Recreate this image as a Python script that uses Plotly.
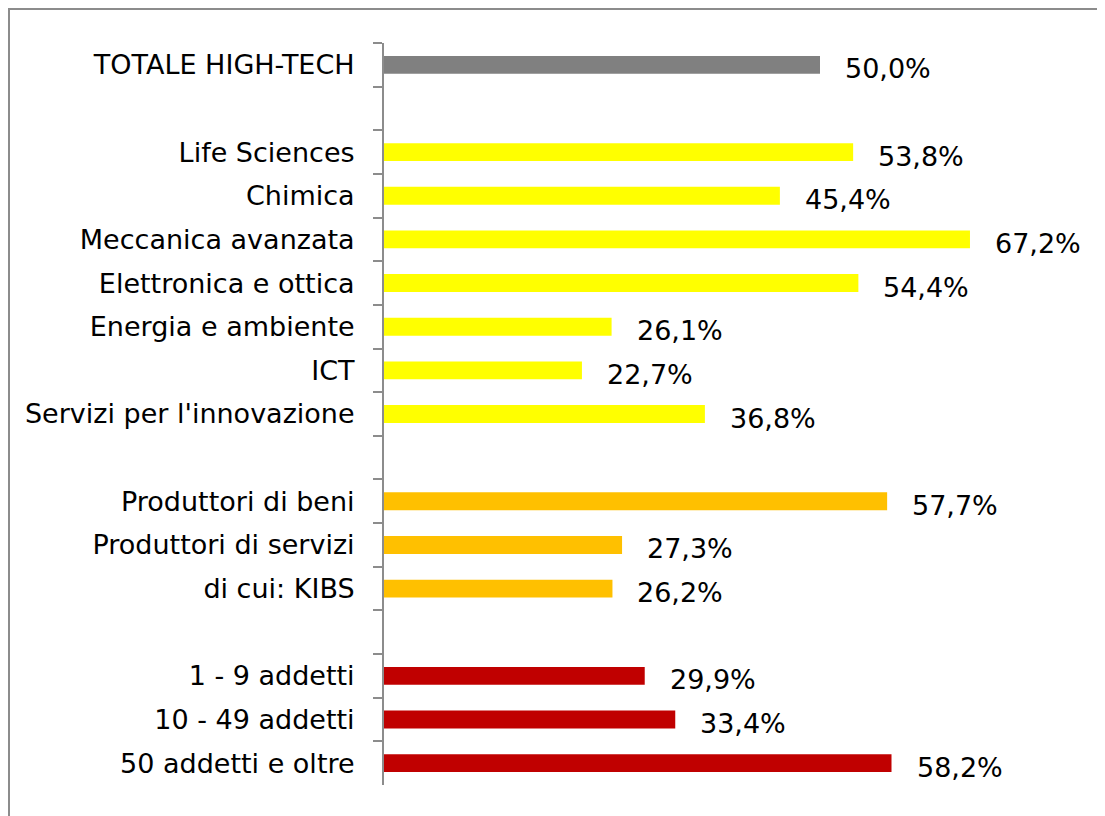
import plotly.graph_objects as go

categories = ["TOTALE HIGH-TECH", " ", "Life Sciences", "Chimica", "Meccanica avanzata",
              "Elettronica e ottica", "Energia e ambiente", "ICT", "Servizi per l'innovazione",
              "  ", "Produttori di beni", "Produttori di servizi", "di cui: KIBS", "   ",
              "1 - 9 addetti", "10 - 49 addetti", "50 addetti e oltre"]
values = [50.0, None, 53.8, 45.4, 67.2, 54.4, 26.1, 22.7, 36.8, None,
          57.7, 27.3, 26.2, None, 29.9, 33.4, 58.2]
colors = ["#808080", "#FFFFFF", "#FFFF00", "#FFFF00", "#FFFF00", "#FFFF00", "#FFFF00", "#FFFF00",
          "#FFFF00", "#FFFFFF", "#FFC000", "#FFC000", "#FFC000", "#FFFFFF", "#C00000", "#C00000", "#C00000"]

OX, OY = 8, 8  # page body margin offset
W, H = 1105 - OX, 816 - OY
L, R, T, B = 384 - OX, 1060 - OX, 43 - OY, 785 - OY
XMAX = (R - L) / 8.72
FONT = "DejaVu Sans"

fig = go.Figure()
fig.add_trace(go.Bar(
    x=[v if v is not None else 0 for v in values], y=categories, orientation="h",
    marker=dict(color=colors, line=dict(width=0)), hoverinfo="skip",
))

ann = []
for c, v in zip(categories, values):
    if v is None:
        continue
    ann.append(dict(x=v, y=c, xref="x", yref="y", text=f"{v:.1f}%".replace(".", ","),
                    showarrow=False, xanchor="left", yanchor="middle", xshift=23, yshift=-4,
                    font=dict(family=FONT, size=27, color="#000000")))

fig.update_layout(
    width=W, height=H,
    margin=dict(l=L, r=W - R, t=T, b=H - B, pad=0),
    paper_bgcolor="white", plot_bgcolor="white",
    bargap=0.59, showlegend=False,
    annotations=ann,
    font=dict(family=FONT, size=27, color="#000000"),
    xaxis=dict(range=[0, XMAX], visible=False, fixedrange=True),
    yaxis=dict(type="category", categoryarray=categories, autorange="reversed",
               showline=True, linecolor="#8c8c8c", linewidth=2,
               ticks="outside", tickson="boundaries", ticklen=9, tickwidth=2, tickcolor="#8c8c8c",
               ticklabelstandoff=22,
               tickfont=dict(family=FONT, size=27, color="#000000"),
               showgrid=False, zeroline=False),
    shapes=[dict(type="rect", xref="paper", yref="paper",
                 x0=(9 - OX - L) / (R - L), x1=(1104 - OX - L) / (R - L),
                 y0=(B - (830 - OY)) / (B - T), y1=(B - (9 - OY)) / (B - T),
                 line=dict(color="#8c8c8c", width=2), fillcolor="rgba(0,0,0,0)")],
)

fig.write_html("out.html")
